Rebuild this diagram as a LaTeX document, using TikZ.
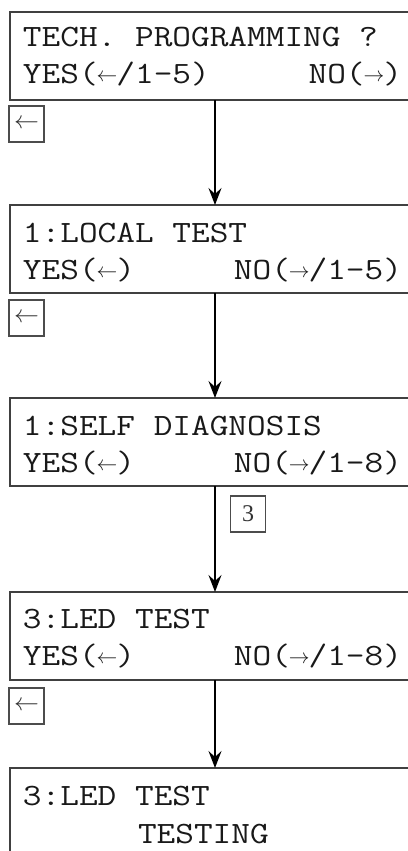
\documentclass[tikz,border=0pt]{standalone}
\usepackage{fontspec}
\newfontfamily\lcd{Latin Modern Mono}[FakeStretch=1.17]
\newfontfamily\tms{Liberation Serif}
\usetikzlibrary{arrows.meta}
\newcommand\cellar[1]{\setbox0\hbox{0}\makebox[\wd0]{\raisebox{2pt}{\fontsize{22}{22}\selectfont$#1$}}}
\newcommand\LA{\cellar{\leftarrow}}
\newcommand\RA{\cellar{\rightarrow}}
\tikzset{
  lcdbox/.style={draw=black!75, line width=2pt, rectangle, minimum width=410pt, minimum height=88pt, inner sep=0pt, outer sep=0pt, anchor=north west},
  txt/.style={inner sep=0pt, outer sep=0pt, font=\lcd\fontsize{31}{36}\selectfont, text=black!90},
  keybox/.style={draw=black!70, line width=1.1pt, rectangle, minimum width=35pt, minimum height=36pt, inner sep=0pt, outer sep=0pt, font=\fontsize{27}{27}\selectfont, text=black!80},
  numbox/.style={keybox, font=\tms\fontsize{24}{24}\selectfont},
  conn/.style={draw=black, line width=1.5pt, -{Stealth[length=17pt,width=13pt,inset=6pt]}}
}
\begin{document}
\begin{tikzpicture}[x=1pt,y=-1pt]
\useasboundingbox (0,0) rectangle (407,851);
\fill[white] (0,0) rectangle (407,851);
% boxes
\node[lcdbox] (b1) at (10,12) {};
\node[lcdbox] (b2) at (10,205) {};
\node[lcdbox] (b3) at (10,398) {};
\node[lcdbox] (b4) at (10,592) {};
\node[lcdbox, minimum height=150pt] (b5) at (10,768) {};
% texts
\node[txt, anchor=base west] (t1a) at (23,47) {TECH. PROGRAMMING ?};
\node[txt, anchor=base west] (t1b) at (23,84) {YES(\LA/1-5)};
\node[txt, anchor=base east] (t1c) at (402,84) {NO(\RA)};
\node[txt, anchor=base west] (t2a) at (23,242) {1:LOCAL TEST};
\node[txt, anchor=base west] (t2b) at (23,279) {YES(\LA)};
\node[txt, anchor=base east] (t2c) at (402,279) {NO(\RA/1-5)};
\node[txt, anchor=base west] (t3a) at (23,435) {1:SELF DIAGNOSIS};
\node[txt, anchor=base west] (t3b) at (23,472) {YES(\LA)};
\node[txt, anchor=base east] (t3c) at (402,472) {NO(\RA/1-8)};
\node[txt, anchor=base west] (t4a) at (23,628) {3:LED TEST};
\node[txt, anchor=base west] (t4b) at (23,665) {YES(\LA)};
\node[txt, anchor=base east] (t4c) at (402,665) {NO(\RA/1-8)};
\node[txt, anchor=base west] (t5a) at (23,805) {3:LED TEST};
\node[txt, anchor=base west] (t5b) at (138,843) {TESTING};
% key boxes
\node[keybox] (k1) at (26.5,124) {$\leftarrow$};
\node[keybox] (k2) at (26.5,318) {$\leftarrow$};
\node[numbox] (k3) at (248,514) {3};
\node[keybox] (k4) at (26.5,706) {$\leftarrow$};
% connectors
\draw[conn] (b1.south) -- (b2.north);
\draw[conn] (b2.south) -- (b3.north);
\draw[conn] (b3.south) -- (b4.north);
\draw[conn] (b4.south) -- (b5.north);
\end{tikzpicture}
\end{document}
